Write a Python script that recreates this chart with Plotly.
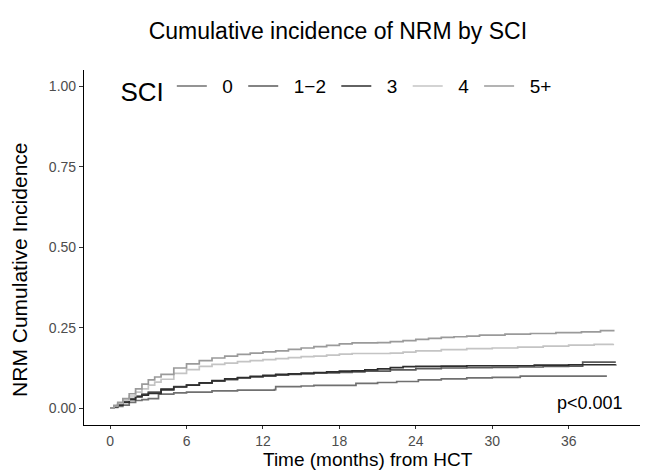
import plotly.graph_objects as go

# ---- data (months, cumulative incidence) ----
sci_labels = ["0", "1\u22122", "3", "4", "5+"]

t_0 = [0, 0.3, 0.6, 1, 1.5, 2, 2.5, 3, 3.8, 5, 6, 8, 10, 12.9, 13, 15, 16, 19.3, 21, 22.5, 24.2, 26, 28, 30, 32.2, 39]
ci_0 = [0, 0.003, 0.006, 0.01, 0.018, 0.024, 0.027, 0.03, 0.044, 0.048, 0.05, 0.054, 0.056, 0.058, 0.067, 0.069, 0.071, 0.077, 0.08, 0.083, 0.088, 0.091, 0.094, 0.096, 0.1, 0.1]

t_12 = [0, 0.3, 0.6, 1, 1.5, 2, 2.5, 3, 4, 5, 6, 7, 8, 9, 10, 11, 12, 13, 14, 15, 16, 17, 18, 19, 20, 22, 24, 26, 28, 30, 32, 34, 36, 37.1, 39.7]
ci_12 = [0, 0.006, 0.012, 0.02, 0.03, 0.038, 0.044, 0.05, 0.06, 0.067, 0.072, 0.078, 0.084, 0.089, 0.094, 0.097, 0.1, 0.103, 0.105, 0.107, 0.109, 0.11, 0.111, 0.113, 0.115, 0.119, 0.123, 0.125, 0.126, 0.127, 0.128, 0.13, 0.131, 0.143, 0.143]

t_3 = [0, 0.3, 0.6, 1, 1.5, 2, 2.5, 3, 4, 5, 6, 7, 8, 9, 10, 11, 12, 13, 14, 15, 16, 17, 18, 19, 20, 21, 22, 23, 24, 26, 28, 30, 33.3, 36, 39.7]
ci_3 = [0, 0.005, 0.01, 0.018, 0.027, 0.035, 0.041, 0.046, 0.057, 0.066, 0.072, 0.079, 0.086, 0.091, 0.095, 0.099, 0.102, 0.105, 0.107, 0.109, 0.111, 0.113, 0.115, 0.116, 0.119, 0.122, 0.126, 0.129, 0.13, 0.131, 0.132, 0.132, 0.134, 0.135, 0.136]

t_4 = [0, 0.3, 0.6, 1, 1.5, 2, 2.5, 3, 3.5, 4, 5, 6, 7, 8, 9, 10, 11, 12, 13, 14, 15, 16, 17, 18, 19, 22, 23, 24, 26, 28, 30, 32, 34, 36, 38, 39.5]
ci_4 = [0, 0.007, 0.015, 0.025, 0.038, 0.05, 0.06, 0.072, 0.081, 0.09, 0.108, 0.12, 0.13, 0.136, 0.14, 0.145, 0.148, 0.151, 0.154, 0.157, 0.16, 0.162, 0.165, 0.168, 0.17, 0.171, 0.174, 0.178, 0.182, 0.185, 0.187, 0.19, 0.193, 0.196, 0.198, 0.2]

t_5 = [0, 0.3, 0.6, 1, 1.5, 2, 2.5, 3, 3.5, 4, 5, 6, 7, 8, 9, 10, 11, 12, 13, 14, 15, 16, 17, 18, 19, 21, 22, 23, 24, 25, 26, 27, 28, 29, 31, 33, 35, 37, 38.5, 39.6]
ci_5 = [0, 0.009, 0.018, 0.03, 0.045, 0.06, 0.075, 0.088, 0.097, 0.105, 0.125, 0.138, 0.148, 0.156, 0.162, 0.167, 0.171, 0.175, 0.178, 0.183, 0.187, 0.191, 0.195, 0.2, 0.203, 0.204, 0.207, 0.21, 0.214, 0.217, 0.22, 0.222, 0.224, 0.227, 0.23, 0.232, 0.235, 0.237, 0.241, 0.241]

x_ticks = [0, 6, 12, 18, 24, 30, 36]
y_ticks = [0, 0.25, 0.5, 0.75, 1.0]
y_tick_text = ["0.00", "0.25", "0.50", "0.75", "1.00"]

series = [(t_0, ci_0), (t_12, ci_12), (t_3, ci_3), (t_4, ci_4), (t_5, ci_5)]
colors = ["#707070", "#5a5a5a", "#2e2e2e", "#c4c4c4", "#9a9a9a"]

NB = "\u00a0"
fig = go.Figure()
for (t, ci), lab, col in zip(series, sci_labels, colors):
    fig.add_trace(go.Scatter(x=t, y=ci, mode="lines", name=NB * 2 + lab + NB,
                             line=dict(color=col, width=1.7, shape="hv")))

font_family = "Liberation Sans, Arial, sans-serif"
fig.update_layout(
    width=646, height=472,
    margin=dict(l=84, r=6, t=70, b=47),
    paper_bgcolor="white", plot_bgcolor="white",
    font=dict(family=font_family, color="black"),
    title=dict(text="Cumulative incidence of NRM by SCI", x=0.523, xanchor="center",
               y=0.935, yanchor="middle", font=dict(size=23, color="black")),
    showlegend=True,
    legend=dict(orientation="h", x=0.062, y=0.946, xanchor="left", yanchor="middle",
                bgcolor="rgba(0,0,0,0)", font=dict(size=19, color="black"),
                title=dict(text="SCI", side="left", font=dict(size=26, color="black")),
                itemwidth=30, tracegroupgap=0),
)
fig.update_xaxes(range=[-2.05, 41.6], tickvals=x_ticks, showline=True, linecolor="black",
                 linewidth=1.2, ticks="outside", ticklen=3, tickcolor="#333",
                 showgrid=False, zeroline=False,
                 tickfont=dict(size=14, color="#4d4d4d"))
fig.update_yaxes(range=[-0.052, 1.05], tickvals=y_ticks, ticktext=y_tick_text, showline=True,
                 linecolor="black", linewidth=1.2, ticks="outside", ticklen=4, tickcolor="#333",
                 showgrid=False, zeroline=False,
                 tickfont=dict(size=14, color="#4d4d4d"))
# axis titles as annotations (placed where the reference shows them)
fig.add_annotation(x=0.51, y=-0.098, xref="paper", yref="paper", text="Time (months) from HCT",
                   showarrow=False, xanchor="center", yanchor="middle",
                   font=dict(size=19, color="black"))
fig.add_annotation(x=-0.115, y=0.437, xref="paper", yref="paper", text="NRM Cumulative Incidence",
                   showarrow=False, xanchor="center", yanchor="middle", textangle=-90,
                   font=dict(size=21, color="black"))
fig.add_annotation(x=40.4, y=0.015, xref="x", yref="y", text="p<0.001", showarrow=False,
                   xanchor="right", yanchor="middle", font=dict(size=18, color="black"))

fig.write_html("out.html")
